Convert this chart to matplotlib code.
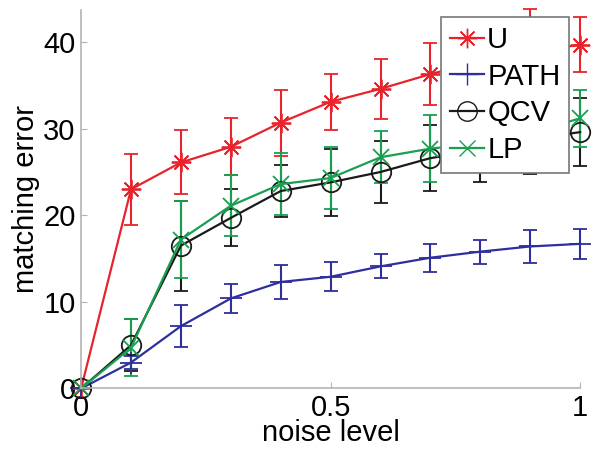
import matplotlib
matplotlib.use("Agg")
import matplotlib.pyplot as plt
from matplotlib.lines import Line2D

plt.rcParams["font.family"] = ["Liberation Sans", "DejaVu Sans"]

noise = [0.0, 0.1, 0.2, 0.3, 0.4, 0.5, 0.6, 0.7, 0.8, 0.9, 1.0]

u_mean = [0.0, 23.0, 26.1, 27.9, 30.7, 33.1, 34.6, 36.3, 37.8, 38.8, 39.7]
u_err = [0.0, 4.1, 3.7, 3.3, 3.8, 3.2, 3.5, 3.6, 3.5, 5.0, 3.2]

path_mean = [0.0, 3.0, 7.2, 10.4, 12.3, 12.9, 14.1, 15.1, 15.8, 16.4, 16.7]
path_err = [0.0, 0.8, 2.4, 1.7, 2.0, 1.7, 1.4, 1.6, 1.4, 1.9, 1.7]

qcv_mean = [0.0, 5.0, 16.5, 19.7, 22.8, 23.8, 25.0, 26.6, 27.5, 28.8, 29.6]
qcv_err = [0.0, 3.0, 5.2, 3.3, 3.0, 3.9, 3.6, 3.8, 3.7, 4.0, 3.9]

lp_mean = [0.0, 4.7, 17.2, 21.1, 23.6, 24.3, 26.7, 27.7, 28.3, 29.5, 31.2]
lp_err = [0.0, 3.3, 4.5, 3.5, 3.6, 3.6, 3.0, 3.9, 3.1, 3.2, 3.3]

series = [
    ("U", u_mean, u_err, "#e8232b", (8, 2, 0), 14),
    ("PATH", path_mean, path_err, "#2e2e9c", "+", 16),
    ("QCV", qcv_mean, qcv_err, "#1a1a1a", "o", 14),
    ("LP", lp_mean, lp_err, "#18a050", "x", 11),
]

FS = 21

fig = plt.figure(figsize=(5.92, 4.53), dpi=100)
ax = fig.add_axes([0.137, 0.1424, 0.843, 0.8355])

handles = []
for name, mean, err, color, marker, ms in series:
    ax.errorbar(
        noise, mean, yerr=err,
        color=color, marker=marker, markersize=ms,
        markerfacecolor="none", markeredgecolor=color, markeredgewidth=1.3,
        linewidth=1.6, elinewidth=1.5, capsize=5, capthick=1.5,
        clip_on=False,
    )
    # legend shows line + marker only, like the original
    handles.append(Line2D([], [], color=color, marker=marker, markersize=ms,
                          markerfacecolor="none", markeredgewidth=1.0,
                          linewidth=1.6, label=name))

ax.set_xlim(0, 1)
ax.set_ylim(0, 43.7)
ax.set_xticks([0, 0.5, 1])
ax.set_xticklabels(["0", "0.5", "1"])
ax.set_yticks([0, 10, 20, 30, 40])

ax.spines["top"].set_visible(False)
ax.spines["right"].set_visible(False)
for s in ("left", "bottom"):
    ax.spines[s].set_color("#b4b4b4")
    ax.spines[s].set_linewidth(1.2)
ax.tick_params(direction="in", length=4, color="#b4b4b4", labelsize=FS, pad=4)

ax.set_xlabel("noise level", fontsize=FS, labelpad=-2)
ax.set_ylabel("matching error", fontsize=FS, labelpad=2)

leg = ax.legend(
    handles=handles,
    loc="upper right", bbox_to_anchor=(0.978, 0.981), borderaxespad=0,
    fontsize=FS, fancybox=False, framealpha=1, edgecolor="#777777",
    handlelength=1.15, handletextpad=0.12, labelspacing=0.3,
    borderpad=0.3,
)
leg.get_frame().set_linewidth(1.2)
leg.set_zorder(10)

fig.savefig("out.png", dpi=100)
